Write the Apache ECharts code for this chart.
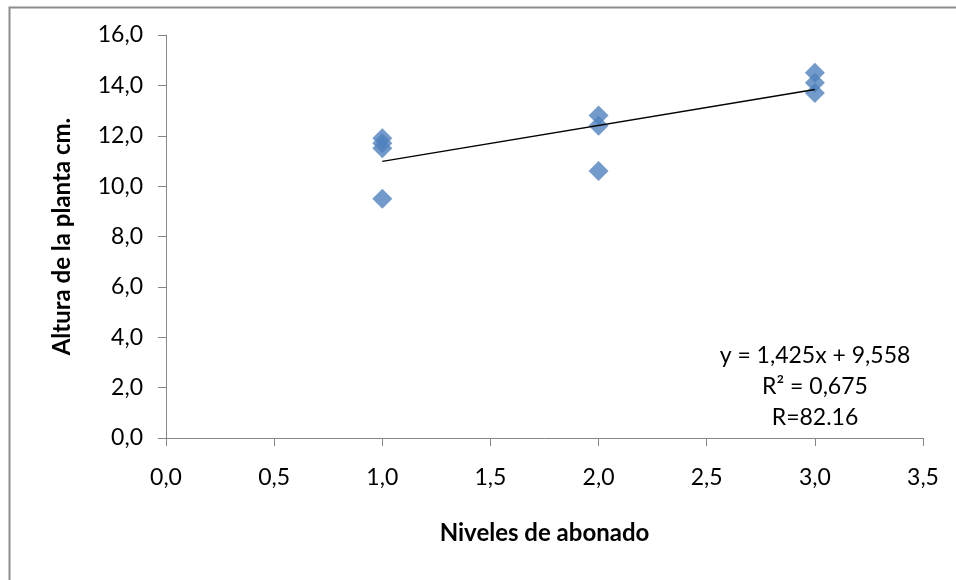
<!DOCTYPE html>
<html>
<head>
<meta charset="utf-8">
<script src="https://cdn.jsdelivr.net/npm/echarts@6/dist/echarts.min.js"></script>
<style>
  html, body { margin: 0; padding: 0; background: #fff; }
  #chart { width: 956px; height: 580px; }
</style>
</head>
<body>
<div id="chart"></div>
<script>
// Fertilizer level (x) vs plant height (y)
const nivel = [1, 1, 1, 1, 2, 2, 2, 3, 3, 3];
const altura = [11.9, 11.7, 11.5, 9.5, 12.8, 12.4, 10.6, 14.5, 14.1, 13.7];

// Linear trend y = a*x + b, fitted over the observed level range
const slope = 1.425;
const intercept = 9.558;
const trendX = [1, 3];

const eqLines = ['y = 1,425x + 9,558', 'R² = 0,675', 'R=82.16'];

const FONT = 'Lato, "Open Sans", sans-serif';
const fmt = v => v.toFixed(1).replace('.', ',');

const chart = echarts.init(document.getElementById('chart'), null, { renderer: 'canvas' });

chart.setOption({
  animation: false,
  backgroundColor: '#fff',
  grid: { left: 166, right: 33, top: 35, bottom: 142 },
  xAxis: {
    type: 'value', min: 0, max: 3.5, interval: 0.5,
    name: 'Niveles de abonado', nameLocation: 'middle', nameGap: 83,
    nameTextStyle: { fontFamily: FONT, fontWeight: 'bold', fontSize: 24, color: '#000' },
    axisLine: { lineStyle: { color: '#868686', width: 1 } },
    axisTick: { show: true, length: 8, lineStyle: { color: '#868686' } },
    splitLine: { show: false },
    axisLabel: { formatter: fmt, fontFamily: FONT, fontSize: 23, color: '#000', margin: 28 }
  },
  yAxis: {
    type: 'value', min: 0, max: 16, interval: 2,
    name: 'Altura de la planta cm.', nameLocation: 'middle', nameGap: 92, nameRotate: 90,
    nameTextStyle: { fontFamily: FONT, fontWeight: 'bold', fontSize: 24, color: '#000' },
    axisLine: { show: true, lineStyle: { color: '#868686', width: 1 } },
    axisTick: { show: true, length: 8, lineStyle: { color: '#868686' } },
    splitLine: { show: false },
    axisLabel: { formatter: fmt, fontFamily: FONT, fontSize: 23, color: '#000', margin: 23 }
  },
  series: [
    {
      type: 'scatter',
      symbol: 'diamond',
      symbolSize: 20,
      itemStyle: { color: '#4F81BD' },
      data: nivel.map((x, i) => [x, altura[i]]),
      z: 2
    },
    {
      type: 'line',
      symbol: 'none',
      lineStyle: { color: '#000', width: 1.5 },
      data: trendX.map(x => [x, slope * x + intercept]),
      z: 3
    }
  ],
  graphic: [
    {
      type: 'rect', left: 7, top: 5, z: -1,
      shape: { width: 980, height: 600 },
      style: { fill: 'none', stroke: '#8c8c8c', lineWidth: 2 }
    },
    {
      type: 'text', x: 815, y: 340,
      style: {
        text: eqLines.join('\n'),
        fontFamily: FONT, fontSize: 23, lineHeight: 31,
        fill: '#000', align: 'center', verticalAlign: 'top'
      }
    }
  ]
});
</script>
</body>
</html>
